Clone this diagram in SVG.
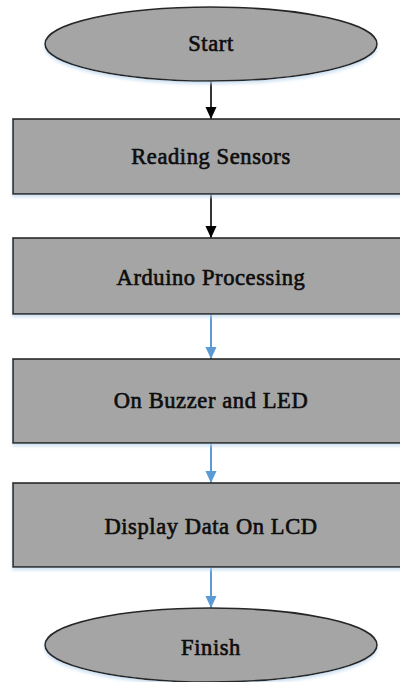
<svg xmlns="http://www.w3.org/2000/svg" width="400" height="682" viewBox="0 0 400 682">
  <style>
    .shape { fill: #a5a5a5; stroke: #262626; stroke-width: 1.6; filter: url(#glow); }
    .label { font-size: 22.5px; font-weight: normal; fill: #0d0d0d; stroke: #0d0d0d; stroke-width: 0.65; text-anchor: middle; letter-spacing: 0.6px; }
    .flow-black { stroke: #000; stroke-width: 1.6; fill: none; marker-end: url(#headBlack); }
    .flow-blue { stroke: #5b9bd5; stroke-width: 2; fill: none; marker-end: url(#headBlue); }
  </style>
  <defs>
    <filter id="glow" x="-10%" y="-10%" width="120%" height="130%">
      <feDropShadow dx="0" dy="2.5" stdDeviation="1.5" flood-color="#bdd7ee" flood-opacity="0.7"/>
    </filter>
    <marker id="headBlack" markerUnits="userSpaceOnUse" markerWidth="12" markerHeight="13" refX="13" refY="6" orient="auto" viewBox="0 0 13 12">
      <path d="M0,0 L13,6 L0,12 Z" fill="#000"/>
    </marker>
    <marker id="headBlue" markerUnits="userSpaceOnUse" markerWidth="12" markerHeight="13" refX="13" refY="6" orient="auto" viewBox="0 0 13 12">
      <path d="M0,0 L13,6 L0,12 Z" fill="#5b9bd5"/>
    </marker>
  </defs>

  <rect width="400" height="682" fill="#fff"/>

  <!-- connectors -->
  <g id="connectors">
    <line class="flow-black" x1="211" y1="81" x2="211" y2="119"/>
    <line class="flow-black" x1="211" y1="194" x2="211" y2="238"/>
    <line class="flow-blue" x1="211" y1="314" x2="211" y2="359"/>
    <line class="flow-blue" x1="211" y1="443" x2="211" y2="483"/>
    <line class="flow-blue" x1="211" y1="567" x2="211" y2="608"/>
  </g>

  <g id="start">
    <ellipse class="shape" cx="211" cy="44" rx="166" ry="37"/>
    <text class="label" x="211" y="51" font-family="Liberation Serif, serif">Start</text>
  </g>

  <g id="reading-sensors">
    <rect class="shape" x="13" y="119" width="400" height="75"/>
    <text class="label" x="211" y="164" font-family="Liberation Serif, serif">Reading Sensors</text>
  </g>

  <g id="arduino-processing">
    <rect class="shape" x="13" y="238" width="400" height="76"/>
    <text class="label" x="211" y="285" font-family="Liberation Serif, serif">Arduino Processing</text>
  </g>

  <g id="buzzer-led">
    <rect class="shape" x="13" y="359" width="400" height="84"/>
    <text class="label" x="211" y="408" font-family="Liberation Serif, serif">On Buzzer and LED</text>
  </g>

  <g id="display-lcd">
    <rect class="shape" x="13" y="483" width="400" height="84"/>
    <text class="label" x="211" y="534" font-family="Liberation Serif, serif">Display Data On LCD</text>
  </g>

  <g id="finish">
    <ellipse class="shape" cx="211" cy="645" rx="166" ry="37"/>
    <text class="label" x="211" y="655" font-family="Liberation Serif, serif">Finish</text>
  </g>
</svg>
